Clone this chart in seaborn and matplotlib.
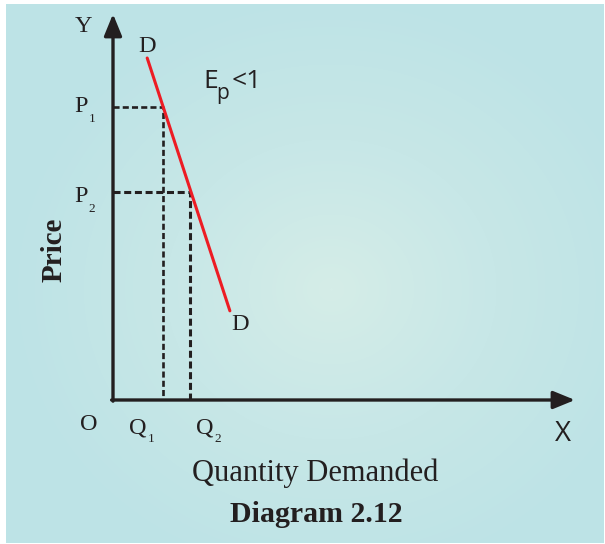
import numpy as np
import pandas as pd
import matplotlib
matplotlib.use("Agg")
import matplotlib.pyplot as plt
import seaborn as sns
from matplotlib.colors import LinearSegmentedColormap

# ---- data (chart units: quantity 0-100, price 0-100) ----
demand_quantity = [7.4, 25.3]
demand_price = [88.6, 23.1]
price_levels = [75.9, 53.9]          # P1, P2
quantity_levels = [10.8, 16.7]       # Q1, Q2
price_labels = ["P", "P"]
price_subs = ["1", "2"]
quantity_labels = ["Q", "Q"]
quantity_subs = ["1", "2"]

W, H = 605, 544
sns.set_theme(style="white")
serif = ["Liberation Serif", "DejaVu Serif"]
sans = ["Open Sans", "DejaVu Sans"]
ink = "#231F20"

fig = plt.figure(figsize=(W / 100, H / 100), dpi=100, facecolor="white")

# background panel with soft radial gradient
bg = fig.add_axes([6 / W, 1 / H, 598 / W, 539 / H])
bg.set_axis_off()
yy, xx = np.mgrid[0:539, 0:598]
cx, cy = 325, 285
r = np.sqrt(((xx - cx) / 330) ** 2 + ((yy - cy) / 300) ** 2)
r = np.clip(r, 0, 1)
cmap = LinearSegmentedColormap.from_list("bg", ["#D5EDE8", "#C7E7E7", "#BDE3E6"])
bg.imshow(r, cmap=cmap, vmin=0, vmax=1, aspect="auto", interpolation="bilinear")

# main axes: origin at pixel (113, 400), arrows end at x=575, y=14
x0, y0, x1, y1 = 113, 400, 575, 14
ax = fig.add_axes([x0 / W, (H - y0) / H, (x1 - x0) / W, (y0 - y1) / H])
ax.set_xlim(0, 100)
ax.set_ylim(0, 100)
ax.patch.set_alpha(0)
for s in ax.spines.values():
    s.set_visible(False)
ax.set_xticks([])
ax.set_yticks([])

# axes lines with arrowheads
ax.annotate("", xy=(100, 0), xytext=(-0.3, 0), xycoords="data",
            arrowprops=dict(arrowstyle="-|>,head_length=1.1,head_width=0.45",
                            lw=2.4, color=ink, shrinkA=0, shrinkB=0),
            annotation_clip=False)
ax.annotate("", xy=(0, 100), xytext=(0, -0.3), xycoords="data",
            arrowprops=dict(arrowstyle="-|>,head_length=1.1,head_width=0.45",
                            lw=2.4, color=ink, shrinkA=0, shrinkB=0),
            annotation_clip=False)

# dashed guide lines
for q, p, lw in zip(quantity_levels, price_levels, [1.9, 2.2]):
    sns.lineplot(x=[0, q, q], y=[p, p, 0], ax=ax, color=ink, lw=lw,
                 linestyle=(0, (2.3, 1.2)), sort=False, estimator=None)

# demand curve
df = pd.DataFrame({"Quantity": demand_quantity, "Price": demand_price})
sns.lineplot(data=df, x="Quantity", y="Price", ax=ax, color="#ED1C24", lw=2.2,
             sort=False, estimator=None)
ax.set_xlabel("")
ax.set_ylabel("")

def px(x, y):
    """pixel -> figure fraction"""
    return x / W, 1 - y / H

small = 17.5
# labels
fig.text(*px(83, 26), "Y", family=serif, fontsize=small, color=ink, ha="center", va="center")
fig.text(*px(147, 47), "D", family=serif, fontsize=small, color=ink, ha="center", va="center")
fig.text(*px(240, 324), "D", family=serif, fontsize=small, color=ink, ha="center", va="center")
fig.text(*px(211, 82), "E", family=sans, fontsize=19, color=ink, ha="center", va="center")
fig.text(*px(223, 93), "p", family=sans, fontsize=15, color=ink, ha="center", va="center")
fig.text(*px(247, 82), "<1", family=sans, fontsize=19, color=ink, ha="center", va="center")

for lab, sub, ypx in zip(price_labels, price_subs, [106, 196]):
    fig.text(*px(81, ypx), lab, family=serif, fontsize=small, color=ink, ha="center", va="center")
    fig.text(*px(92, ypx + 13), sub, family=serif, fontsize=9.5, color=ink, ha="center", va="center")

for lab, sub, xpx in zip(quantity_labels, quantity_subs, [138, 205]):
    fig.text(*px(xpx, 428), lab, family=serif, fontsize=small, color=ink, ha="center", va="center")
    fig.text(*px(xpx + 13, 439), sub, family=serif, fontsize=9.5, color=ink, ha="center", va="center")

fig.text(*px(89, 425), "O", family=serif, fontsize=small, color=ink, ha="center", va="center")
fig.text(*px(563, 434), "X", family=sans, fontsize=20, color=ink, ha="center", va="center")
fig.text(*px(54, 250), "Price", family=serif, fontsize=21, fontweight="bold", color=ink,
         rotation=90, ha="center", va="center")
fig.text(*px(315, 473), "Quantity Demanded", family=serif, fontsize=22, color=ink,
         ha="center", va="center")
fig.text(*px(316, 514), "Diagram 2.12", family=serif, fontsize=21.5, fontweight="bold",
         color=ink, ha="center", va="center")

fig.savefig("out.png", dpi=100, facecolor="white")
